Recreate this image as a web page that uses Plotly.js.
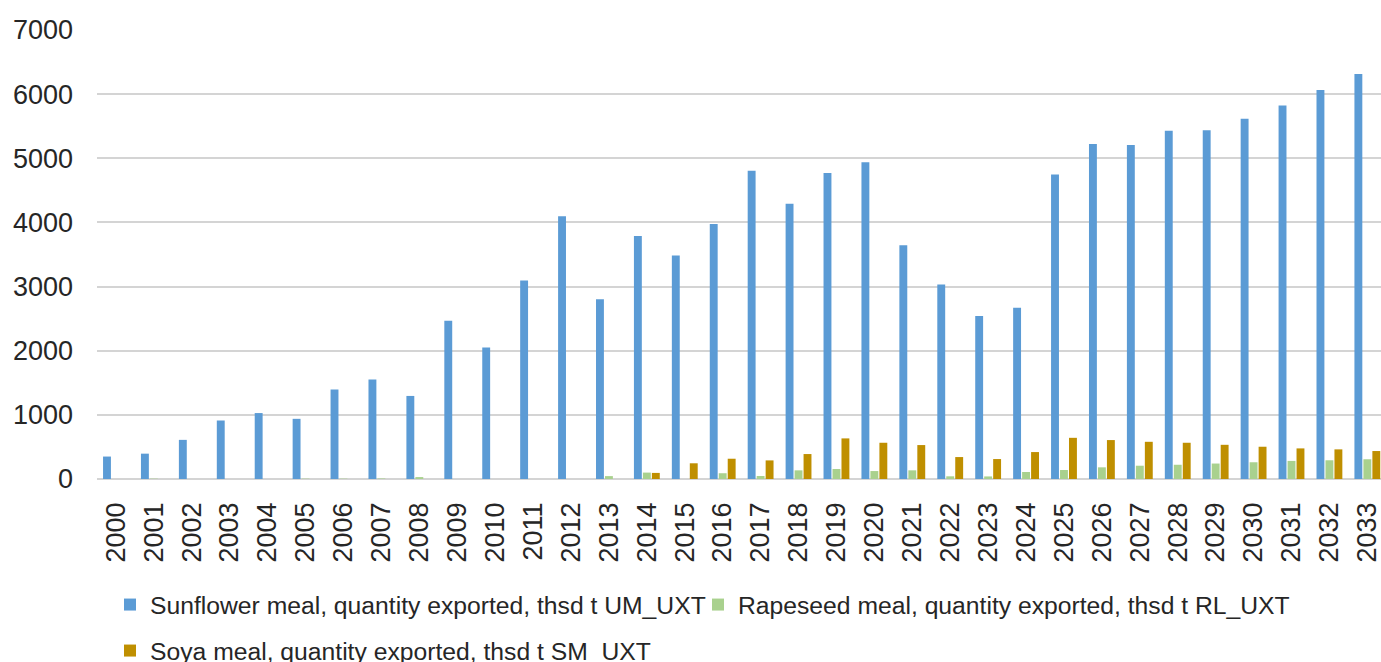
<!DOCTYPE html>
<html>
<head>
<meta charset="utf-8">
<script src="https://cdn.plot.ly/plotly-3.0.1.min.js"></script>
<style>
html,body{margin:0;padding:0;overflow:hidden;background:#fff;}
#chart{width:1381px;height:662px;}
</style>
</head>
<body>
<div id="chart"></div>
<script>
const years = ["2000","2001","2002","2003","2004","2005","2006","2007","2008","2009","2010","2011","2012","2013","2014","2015","2016","2017","2018","2019","2020","2021","2022","2023","2024","2025","2026","2027","2028","2029","2030","2031","2032","2033"];
const sunflower = [350,395,610,912,1028,938,1394,1550,1295,2466,2051,3093,4098,2803,3787,3483,3974,4807,4290,4772,4938,3643,3031,2543,2670,4748,5221,5206,5428,5438,5618,5824,6066,6314];
const rapeseed = [0,5,0,0,0,5,5,8,30,0,0,0,0,45,100,0,90,47,135,156,124,135,42,40,109,140,182,207,222,241,261,282,292,308];
const soya = [0,0,0,0,0,0,0,0,0,0,0,0,0,0,95,245,316,290,389,633,565,529,342,311,420,642,607,580,565,533,503,477,462,436];
const names = [
  "Sunflower meal, quantity exported, thsd t UM_UXT",
  "Rapeseed meal, quantity exported, thsd t RL_UXT",
  "Soya meal, quantity exported, thsd t SM_UXT"
];
const colors = ["#5B9BD5", "#A9D18E", "#BF8F00"];

const traces = [
  {type:"bar", x:years, y:sunflower, name:names[0], marker:{color:colors[0]}, legend:"legend"},
  {type:"bar", x:years, y:rapeseed, name:names[1], marker:{color:colors[1]}, legend:"legend2"},
  {type:"bar", x:years, y:soya, name:names[2], marker:{color:colors[2]}, legend:"legend3"}
];

const font = {family:"Liberation Sans, Arial, sans-serif", color:"#262626"};
const legFont = {size:24.7, family:font.family, color:"#262626"};

function leg(xpx, ypx) {
  return {
    orientation:"h", xref:"container", yref:"container",
    x:xpx/1381, xanchor:"left", y:1-ypx/662, yanchor:"middle",
    font:legFont, bgcolor:"rgba(0,0,0,0)"
  };
}

const layout = {
  width:1381, height:662,
  margin:{l:97, r:0, t:29.5, b:182.5},
  paper_bgcolor:"#ffffff", plot_bgcolor:"#ffffff",
  font:font,
  barmode:"group", bargap:0.29, bargroupgap:0.12,
  showlegend:true,
  xaxis:{
    type:"category", range:[-0.5, 33.36],
    tickangle:-90, tickfont:{size:27, family:font.family, color:"#262626"},
    showgrid:false, zeroline:false, showline:false, ticks:"",
    ticklabelstandoff:17
  },
  yaxis:{
    range:[0,7000], dtick:1000, tick0:0,
    tickfont:{size:27, family:font.family, color:"#262626"},
    showgrid:true, gridcolor:"#d4d4d4", gridwidth:2,
    zeroline:true, zerolinecolor:"#d4d4d4", zerolinewidth:2,
    showline:false, ticks:"", ticklabelstandoff:23
  },
  legend: leg(110, 605),
  legend2: leg(698, 605),
  legend3: leg(110, 651)
};

Plotly.newPlot("chart", traces, layout, {displayModeBar:false, staticPlot:true});
</script>
</body>
</html>
